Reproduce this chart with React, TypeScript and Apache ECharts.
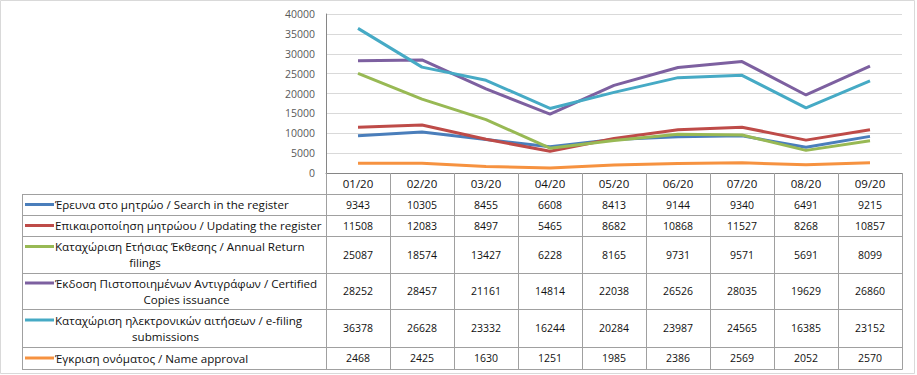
import React, { useEffect, useRef } from "react";
import * as echarts from "echarts";

const categories = ["01/20", "02/20", "03/20", "04/20", "05/20", "06/20", "07/20", "08/20", "09/20"];
const seriesNames = [
  "Έρευνα στο μητρώο / Search in the register",
  "Επικαιροποίηση μητρώου / Updating the register",
  "Καταχώριση Ετήσιας Έκθεσης / Annual Return filings",
  "Έκδοση Πιστοποιημένων Αντιγράφων / Certified Copies issuance",
  "Καταχώριση ηλεκτρονικών αιτήσεων / e-filing submissions",
  "Έγκριση ονόματος / Name approval",
];
const labelLines = [
  ["Έρευνα στο μητρώο / Search in the register"],
  ["Επικαιροποίηση μητρώου / Updating the register"],
  ["Καταχώριση Ετήσιας Έκθεσης / Annual Return", "filings"],
  ["Έκδοση Πιστοποιημένων Αντιγράφων / Certified", "Copies issuance"],
  ["Καταχώριση ηλεκτρονικών αιτήσεων / e-filing", "submissions"],
  ["Έγκριση ονόματος / Name approval"],
];
const searchRegister = [9343, 10305, 8455, 6608, 8413, 9144, 9340, 6491, 9215];
const updatingRegister = [11508, 12083, 8497, 5465, 8682, 10868, 11527, 8268, 10857];
const annualReturn = [25087, 18574, 13427, 6228, 8165, 9731, 9571, 5691, 8099];
const certifiedCopies = [28252, 28457, 21161, 14814, 22038, 26526, 28035, 19629, 26860];
const eFiling = [36378, 26628, 23332, 16244, 20284, 23987, 24565, 16385, 23152];
const nameApproval = [2468, 2425, 1630, 1251, 1985, 2386, 2569, 2052, 2570];
const seriesData = [searchRegister, updatingRegister, annualReturn, certifiedCopies, eFiling, nameApproval];
const yTicks = { min: 0, max: 40000, interval: 5000 };

const colors = ["#4a7ebb", "#be4b48", "#98b954", "#7d60a0", "#46aac5", "#f69240"];
const FONT = "Open Sans";

export default function App() {
  const ref = useRef<HTMLDivElement>(null);
  useEffect(() => {
    document.body.style.margin = "0";
    const chart = echarts.init(ref.current!, null, { renderer: "svg" });
    const gridLeft = 326;
    const gridRight = 902;
    chart.setOption({
      animation: false,
      grid: { left: gridLeft, top: 14, right: 917 - gridRight, bottom: 375 - 173 },
      xAxis: {
        type: "category",
        data: categories,
        boundaryGap: true,
        axisLine: { lineStyle: { color: "#868686", width: 1 } },
        axisTick: { show: true, length: 21, lineStyle: { color: "#a0a0a0" } },
        axisLabel: { margin: 4, color: "#111", fontSize: 11.5, fontFamily: FONT },
      },
      yAxis: {
        type: "value",
        min: yTicks.min,
        max: yTicks.max,
        interval: yTicks.interval,
        axisLine: { show: true, lineStyle: { color: "#868686" } },
        axisTick: { show: false },
        splitLine: { lineStyle: { color: "#d9d9d9" } },
        axisLabel: {
          margin: 11,
          color: "#595959",
          fontSize: 10.5,
          fontFamily: FONT,
          formatter: (v: number) => String(v),
        },
      },
      series: seriesData.map((d, i) => ({
        type: "line",
        name: seriesNames[i],
        data: d,
        symbol: "none",
        lineStyle: { color: colors[i], width: 3 },
        itemStyle: { color: colors[i] },
      })),
    });

    const xs = categories.map((_, i) => chart.convertToPixel({ xAxisIndex: 0 }, i) as number);
    const colW = (gridRight - gridLeft) / categories.length;
    const rowTops = [194, 215, 236, 273, 309, 347, 369];
    const tableLeft = 22;
    const lineColor = "#a0a0a0";
    const els: any[] = [];
    els.push({
      type: "rect",
      shape: { x: 0.5, y: 0.5, width: 914, height: 373 },
      style: { fill: "none", stroke: "#d9d9d9", lineWidth: 1 },
      silent: true,
    });
    rowTops.forEach((y) => {
      els.push({
        type: "line",
        shape: { x1: tableLeft, y1: y + 0.5, x2: gridRight + 0.5, y2: y + 0.5 },
        style: { stroke: lineColor, lineWidth: 1 },
      });
    });
    const vx = [tableLeft];
    for (let k = 0; k <= categories.length; k++) vx.push(gridLeft + k * colW);
    vx.forEach((x) => {
      els.push({
        type: "line",
        shape: { x1: Math.round(x) + 0.5, y1: rowTops[0], x2: Math.round(x) + 0.5, y2: rowTops[rowTops.length - 1] + 0.5 },
        style: { stroke: lineColor, lineWidth: 1 },
      });
    });
    const secondLineCenters = [0, 0, 145, 186.5, 165.5, 0];
    seriesData.forEach((d, r) => {
      const top = rowTops[r];
      const bottom = rowTops[r + 1];
      const mid = (top + bottom) / 2;
      const lines = labelLines[r];
      const firstY = lines.length > 1 ? mid - 8 : mid;
      els.push({
        type: "line",
        shape: { x1: 25, y1: firstY, x2: 54, y2: firstY },
        style: { stroke: colors[r], lineWidth: 3 },
      });
      els.push({
        type: "text",
        x: 55,
        y: firstY,
        style: { text: lines[0], fill: "#111", font: `11.6px "${FONT}"`, textVerticalAlign: "middle", textAlign: "left" },
      });
      if (lines.length > 1) {
        els.push({
          type: "text",
          x: secondLineCenters[r],
          y: firstY + 16,
          style: { text: lines[1], fill: "#111", font: `11.6px "${FONT}"`, textVerticalAlign: "middle", textAlign: "center" },
        });
      }
      d.forEach((v, c) => {
        els.push({
          type: "text",
          x: xs[c],
          y: mid,
          style: { text: String(v), fill: "#111", font: `10.5px "${FONT}"`, textVerticalAlign: "middle", textAlign: "center" },
        });
      });
    });
    chart.setOption({ graphic: els });
    return () => chart.dispose();
  }, []);
  return <div ref={ref} style={{ width: 917, height: 375, background: "#fff" }} />;
}
